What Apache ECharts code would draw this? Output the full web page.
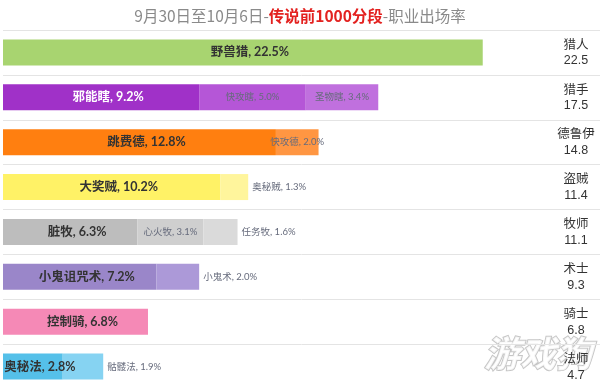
<!DOCTYPE html>
<html>
<head>
<meta charset="utf-8">
<script src="https://cdn.jsdelivr.net/npm/echarts@6/dist/echarts.min.js"></script>
<style>html,body{margin:0;padding:0;background:#fff}#c{width:600px;height:389px}</style>
</head>
<body>
<div id="c"></div>
<script>
const classes = ['猎人','猎手','德鲁伊','盗贼','牧师','术士','骑士','法师'];
const totals = ['22.5','17.5','14.8','11.4','11.1','9.3','6.8','4.7'];
const deck1Names = ['野兽猎','邪能瞎','跳费德','大奖贼','脏牧','小鬼诅咒术','控制骑','奥秘法'];
const deck1Values = [22.5, 9.2, 12.8, 10.2, 6.3, 7.2, 6.8, 2.8];
const deck2Names = [null,'快攻瞎','快攻德','奥秘贼','心火牧','小鬼术',null,'骷髅法'];
const deck2Values = [null, 5.0, 2.0, 1.3, 3.1, 2.0, null, 1.9];
const deck3Names = [null,'圣物瞎',null,null,'任务牧',null,null,null];
const deck3Values = [null, 3.4, null, null, 1.6, null, null, null];

const colors1 = ['#a8d470','#a031c8','#ff7f10','#fff266','#bdbdbd','#9a86c9','#f589b6','#55c0e9'];
const colors2 = [null,'#b556d7','#ff9642','#fff59c','#cfcfcf','#ac99d8',null,'#86d3f2'];
const colors3 = [null,'#c070de',null,null,'#dadada',null,null,null];
const outsideSet = new Set(['奥秘贼','任务牧','小鬼术','骷髅法']);
const CJK = "Lato, 'Noto Sans CJK SC', sans-serif";

function fmt(v){ return v.toFixed(1) + '%'; }

const s1 = deck1Values.map((v,i)=>({
  value: v,
  itemStyle: {color: colors1[i]},
  label: {
    show: true, position: 'inside', offset: [7,0],
    formatter: deck1Names[i] + ', ' + fmt(v),
    color: i === 1 ? '#ffffff' : '#333333',
    fontSize: 12.5, fontWeight: 'bold', fontFamily: CJK
  }
}));
function sub(names, values, cols){
  return values.map((v,i)=>{
    if (v === null) return {value: '-'};
    const out = outsideSet.has(names[i]);
    return {
      value: v,
      itemStyle: {color: cols[i]},
      label: {
        show: true, position: out ? 'right' : 'inside', distance: 4,
        formatter: names[i] + ', ' + fmt(v),
        color: '#666b7c', fontSize: 9.5, fontFamily: CJK
      }
    };
  });
}

const chart = echarts.init(document.getElementById('c'), null, {renderer: 'canvas'});
chart.setOption({
  animation: false,
  backgroundColor: '#ffffff',
  title: {
    text: '{g|9月30日至10月6日-}{r|传说前1000分段}{g|-职业出场率}',
    left: 'center', top: 3,
    textStyle: {
      fontWeight: 'normal',
      rich: {
        g: {fontSize: 15.5, color: '#8a8a8a', fontWeight: 'normal', fontFamily: "'Noto Sans CJK SC', sans-serif"},
        r: {fontSize: 15.5, color: '#e3211f', fontWeight: 'bold', fontFamily: "'Noto Sans CJK SC', sans-serif"}
      }
    }
  },
  grid: {left: 3, right: 0, top: 30, bottom: 0, containLabel: false},
  xAxis: {
    type: 'value', min: 0, max: 28, show: false
  },
  yAxis: {
    type: 'category', data: classes, inverse: true, position: 'right',
    axisLine: {show: false}, axisTick: {show: false},
    splitLine: {show: true, lineStyle: {color: '#e4e4e4', width: 1}},
    axisLabel: {
      inside: true, margin: 24, align: 'center',
      formatter: (val, idx) => '{n|' + val + '}\n{v|' + totals[idx] + '}',
      rich: {
        n: {fontSize: 12.5, color: '#333', lineHeight: 17, fontFamily: "'Noto Sans CJK SC', sans-serif", align: 'center'},
        v: {fontSize: 12.5, color: '#333', lineHeight: 17, fontFamily: "'Liberation Sans', sans-serif", align: 'center'}
      }
    }
  },
  series: [
    {type: 'bar', stack: 'a', barWidth: 26, data: s1},
    {type: 'bar', stack: 'a', barWidth: 26, data: sub(deck2Names, deck2Values, colors2)},
    {type: 'bar', stack: 'a', barWidth: 26, data: sub(deck3Names, deck3Values, colors3)}
  ],
  graphic: [{
    type: 'text', left: 483, top: 334, silent: true,
    style: {
      text: '游戏狗', fontSize: 36, fontWeight: 'bold', fontStyle: 'italic',
      fontFamily: "'Noto Sans CJK SC', sans-serif",
      fill: 'rgba(255,255,255,0.85)', stroke: 'rgba(160,160,160,0.6)', lineWidth: 2
    }
  }]
});
</script>
</body>
</html>
